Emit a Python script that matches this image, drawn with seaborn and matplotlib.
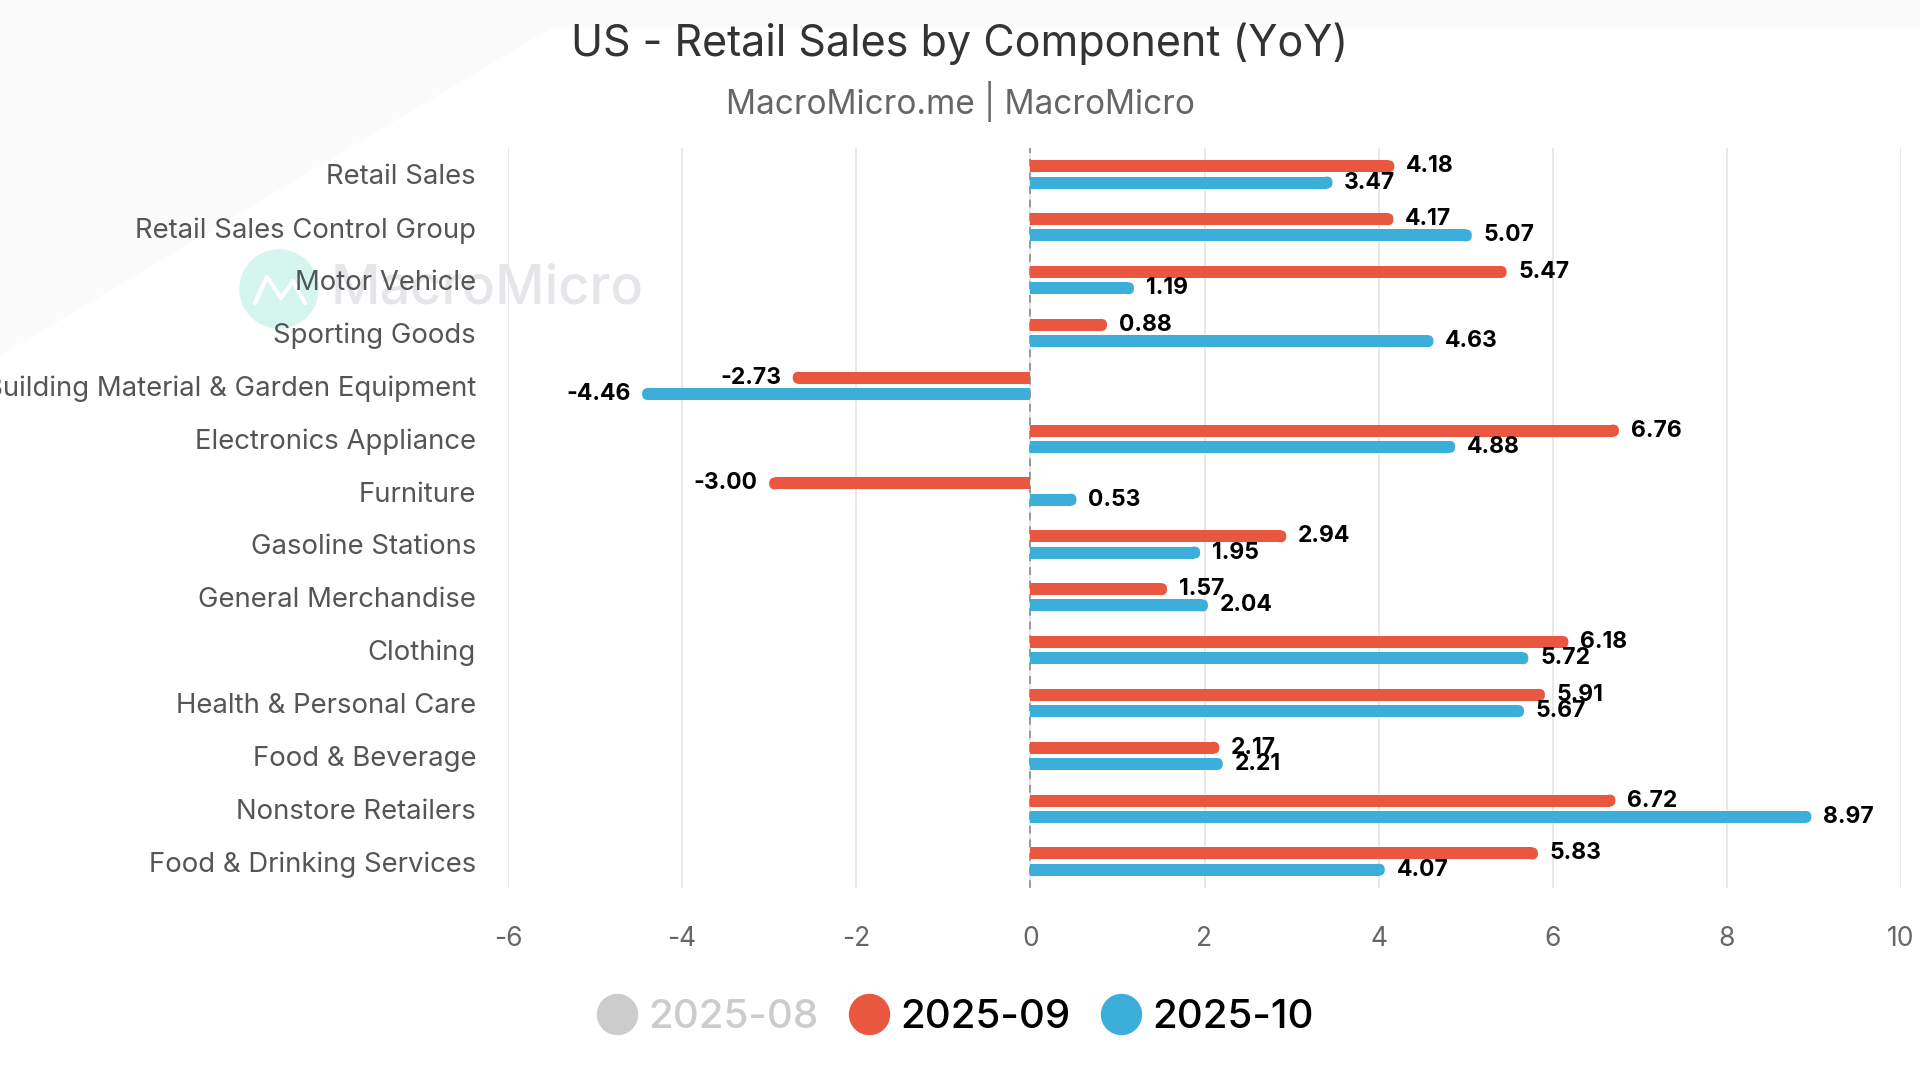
import matplotlib
matplotlib.use("Agg")
import pandas as pd
import matplotlib.pyplot as plt
import seaborn as sns
from matplotlib.patches import FancyBboxPatch, Ellipse, Polygon
from matplotlib.lines import Line2D

# data
components = [
    "Retail Sales", "Retail Sales Control Group", "Motor Vehicle", "Sporting Goods",
    "Building Material & Garden Equipment", "Electronics Appliance", "Furniture",
    "Gasoline Stations", "General Merchandise", "Clothing", "Health & Personal Care",
    "Food & Beverage", "Nonstore Retailers", "Food & Drinking Services",
]
yoy_2025_09 = [4.18, 4.17, 5.47, 0.88, -2.73, 6.76, -3.00, 2.94, 1.57, 6.18, 5.91, 2.17, 6.72, 5.83]
yoy_2025_10 = [3.47, 5.07, 1.19, 4.63, -4.46, 4.88, 0.53, 1.95, 2.04, 5.72, 5.67, 2.21, 8.97, 4.07]
months = ["2025-08", "2025-09", "2025-10"]
x_ticks = [-6, -4, -2, 0, 2, 4, 6, 8, 10]

RED = "#E9573F"
BLUE = "#3BAFDA"
GREY = "#cccccc"

df = pd.DataFrame({"Component": components, "2025-09": yoy_2025_09, "2025-10": yoy_2025_10})
df = df.melt(id_vars="Component", var_name="Month", value_name="YoY")

sns.set_theme(style="white")
plt.rcParams["font.family"] = ["Inter", "DejaVu Sans"]

W, H = 1920, 1080
fig = plt.figure(figsize=(W / 100, H / 100), dpi=100, facecolor="white")

# faint background watermark shape
fig.patches.append(Polygon([(0, 1), (1, 1), (1, 1 - 27 / H), (551 / W, 1 - 27 / H),
                            (0, 1 - 355 / H)],
                           closed=True, transform=fig.transFigure, color="#fbfbfb", zorder=-3))

# plot area in pixels
left, right, top, bottom = 508, 1901, 148, 888
ax = fig.add_axes([left / W, 1 - bottom / H, (right - left) / W, (bottom - top) / H])
ax.patch.set_alpha(0)

sns.barplot(data=df, x="YoY", y="Component", hue="Month", hue_order=months[1:],
            palette=[RED, BLUE], orient="h", width=0.615, errorbar=None,
            saturation=1, legend=False, linewidth=0, edgecolor="none", ax=ax)

ax.set_xlim(-6, 10)
ax.set_ylim(len(components) - 0.5, -0.5)
ax.set_xticks(x_ticks)
ax.set_xticklabels([str(t) for t in x_ticks])

# data labels first (they use the original bar ends)
for cont in ax.containers:
    ax.bar_label(cont, fmt="%.2f", padding=8.5, fontsize=16.5, fontweight="bold", color="black")

# thinner bars with rounded outer end
px_x = (right - left) / 16
px_y = (bottom - top) / len(components)
bar_h = 12 / px_y
r = 5.8 / px_x
for cont in ax.containers:
    for p in cont.patches:
        c = p.get_y() + p.get_height() / 2
        w = p.get_width()
        s = 1 if w >= 0 else -1
        p.set_y(c - bar_h / 2)
        p.set_height(bar_h)
        p.set_width(w - s * r)
        x0 = min(w, w - s * 2 * r)
        ax.add_patch(FancyBboxPatch((x0, c - bar_h / 2), 2 * r, bar_h,
                                    boxstyle=f"round,pad=0,rounding_size={r}",
                                    mutation_aspect=px_x / px_y, linewidth=0,
                                    facecolor=p.get_facecolor(), edgecolor="none", zorder=p.get_zorder()))

ax.grid(axis="x", color="#e6e6e6", lw=1.3)
ax.grid(axis="y", visible=False)
ax.set_axisbelow(True)
ax.axvline(0, color="#999999", lw=1.4, ls=(0, (4, 3)), zorder=0.8)
for sp in ax.spines.values():
    sp.set_visible(False)
ax.set_xlabel("")
ax.set_ylabel("")
ax.tick_params(axis="y", length=0, pad=23, labelsize=19.8, labelcolor="#555555")
ax.tick_params(axis="x", length=0, pad=27, labelsize=19, labelcolor="#666666")

# titles
fig.text(0.5, 1 - 44 / H, "US - Retail Sales by Component (YoY)", ha="center", va="center",
         fontsize=31, color="#333333")
fig.text(0.5, 1 - 102 / H, "MacroMicro.me | MacroMicro", ha="center", va="center",
         fontsize=24, color="#666666")

# logo watermark
fig.patches.append(Ellipse((279 / W, 1 - 289 / H), 78 / W, 78 / H, transform=fig.transFigure,
                           color="#d5f6ef", zorder=-2))
fig.lines.append(Line2D([255 / W, 267 / W, 281 / W, 293 / W, 305 / W],
                        [1 - 303 / H, 1 - 277 / H, 1 - 298 / H, 1 - 281 / H, 1 - 303 / H],
                        transform=fig.transFigure, color="white", lw=3, zorder=-1))
fig.text(331 / W, 1 - 289 / H, "MacroMicro", ha="left", va="center", fontsize=39,
         color="#e4e6e9", fontweight="medium", zorder=-1)

# legend (2025-08 is shown as a hidden series)
handles = [Line2D([], [], marker="o", ls="", markersize=28.8, color=col)
           for col in [GREY, RED, BLUE]]
leg = fig.legend(handles, months, loc="center", bbox_to_anchor=(955 / W, 1 - 1018 / H),
                 ncol=3, frameon=False, fontsize=29, handlelength=1.0,
                 handletextpad=0.28, columnspacing=0.75)
for txt, col in zip(leg.get_texts(), [GREY, "black", "black"]):
    txt.set_color(col)
    txt.set_fontweight("medium")

fig.savefig("out.png", dpi=100)
